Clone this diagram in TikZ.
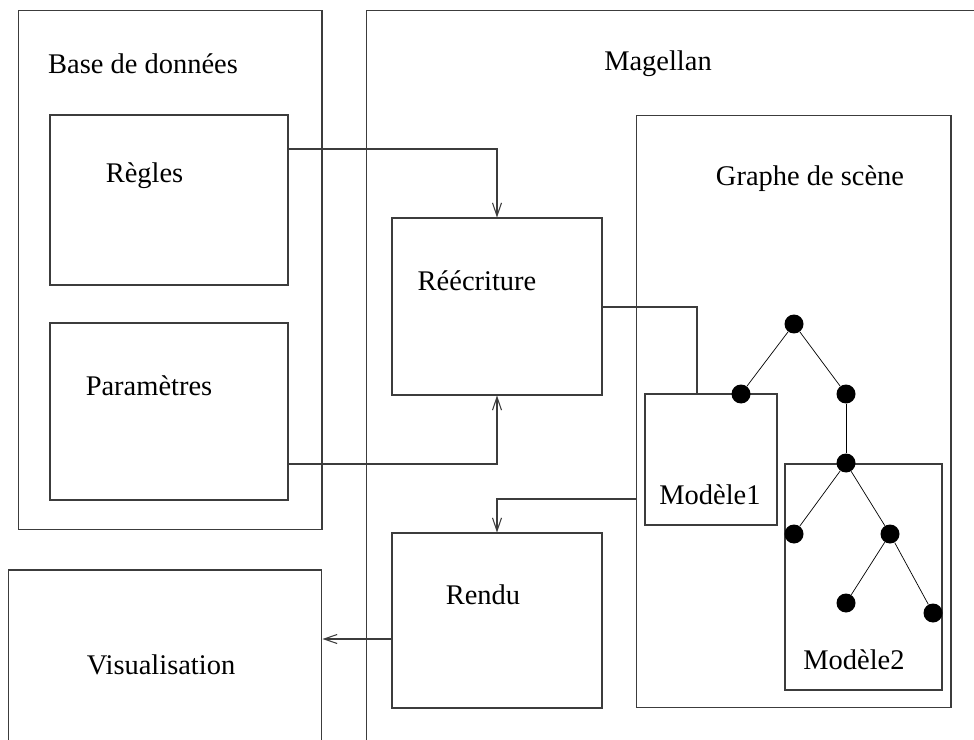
\documentclass[tikz,border=0pt]{standalone}
\usepackage{fontspec}
\setmainfont{Liberation Serif}
\usetikzlibrary{arrows.meta}
\definecolor{mgink}{RGB}{60,60,60}

\begin{document}
\begin{tikzpicture}[
  x=0.02cm, y=-0.02cm,
  font=\fontsize{16.2}{19.5}\selectfont,
  box/.style={draw=mgink, line width=0.6pt, inner sep=0pt},
  arr/.style={-{Straight Barb[length=2.6mm,width=1.8mm]}, mgink, line width=0.6pt},
  wire/.style={mgink, line width=0.6pt},
  dot/.style={circle, fill=black, inner sep=0pt, minimum size=0.38cm},
  txt/.style={inner sep=0pt}
]
\useasboundingbox (0,0) rectangle (974,740);
\clip (0,0) rectangle (974,740);

% outer frames
\node[box, minimum width=6.08cm, minimum height=10.4cm] (base) at (170,270) {};
\node[box, minimum width=12.68cm, minimum height=15cm] (mag) at (683,385) {};
\node[box, minimum width=6.28cm, minimum height=3.8cm] (visu) at (165,665) {};
\node[txt] (tbase) at (143,64) {Base de donn\'ees};
\node[txt] (tmag) at (658,64) {Magellan};
\node[txt] (tvisu) at (161,665) {Visualisation};

% database
\node[box, minimum width=4.76cm, minimum height=3.4cm] (regles) at (169,200) {};
\node[box, minimum width=4.76cm, minimum height=3.54cm] (params) at (169,411.5) {};
\node[txt] (tregles) at (144.5,176) {R\`egles};
\node[txt] (tparams) at (149,386) {Param\`etres};

% magellan
\node[box, minimum width=4.2cm, minimum height=3.54cm] (reecr) at (497,306.5) {};
\node[box, minimum width=4.2cm, minimum height=3.5cm] (rendu) at (497,620.5) {};
\node[box, minimum width=6.3cm, minimum height=11.86cm] (graphe) at (793.5,411.5) {};
\node[box, minimum width=2.64cm, minimum height=2.62cm] (modA) at (711,459.5) {};
\node[box, minimum width=3.14cm, minimum height=4.52cm] (modB) at (863.5,577) {};
\node[txt] (treecr) at (477,281) {R\'e\'ecriture};
\node[txt] (trendu) at (483,595) {Rendu};
\node[txt] (tgraphe) at (810,179) {Graphe de sc\`ene};
\node[txt] (tmodA) at (710,495) {Mod\`ele1};
\node[txt] (tmodB) at (854,660) {Mod\`ele2};

% connectors
\coordinate (c1) at (0,149);
\coordinate (c2) at (0,464);
\coordinate (c3) at (0,307);
\coordinate (c4) at (697,0);
\coordinate (c5) at (0,499);
\coordinate (c6) at (0,639);
\draw[arr] (regles.east |- c1) -| (reecr.north);
\draw[arr] (params.east |- c2) -| (reecr.south);
\draw[wire] (reecr.east |- c3) -| (modA.north -| c4);
\draw[arr] (graphe.west |- c5) -| (rendu.north);
\draw[arr] (rendu.west |- c6) -- (visu.east |- c6);

% scene tree
\node[dot] (t0) at (794,324) {};
\node[dot] (t1) at (741,394) {};
\node[dot] (t2) at (846,394) {};
\node[dot] (t3) at (846,463) {};
\node[dot] (t4) at (794,534) {};
\node[dot] (t5) at (890,534) {};
\node[dot] (t6) at (846,603) {};
\node[dot] (t7) at (933,613) {};
\draw (t0) -- (t1);
\draw (t0) -- (t2);
\draw (t2) -- (t3);
\draw (t3) -- (t4);
\draw (t3) -- (t5);
\draw (t5) -- (t6);
\draw (t5) -- (t7);
\end{tikzpicture}
\end{document}
